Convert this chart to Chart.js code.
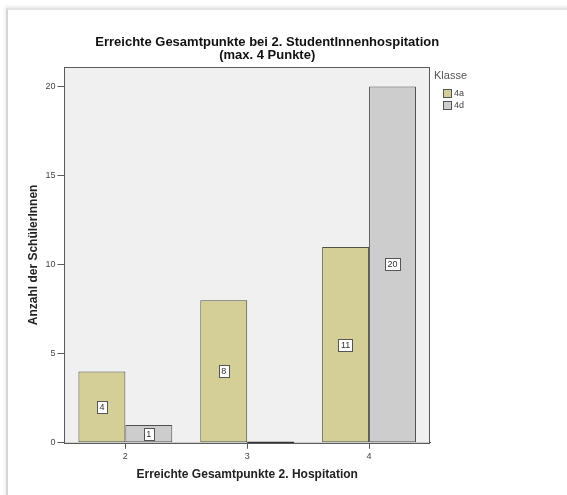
<!DOCTYPE html>
<html>
<head>
<meta charset="utf-8">
<script src="https://cdn.jsdelivr.net/npm/chart.js@4"></script>
<style>
  html, body { margin: 0; padding: 0; background: #ffffff; }
  body { width: 567px; height: 495px; overflow: hidden; position: relative; }
  #frame {
    position: absolute; left: 6px; top: 8px; width: 600px; height: 520px;
    border-left: 2px solid #d6d6d6; border-top: 2px solid #e4e4e4;
    box-shadow: -1px -2px 3px rgba(0,0,0,0.08);
  }
  #wrap { position: absolute; left: 0; top: 0; width: 567px; height: 495px; }
</style>
</head>
<body>
<div id="frame"></div>
<div id="wrap"><canvas id="chart" width="567" height="495"></canvas></div>
<script>
// Erreichte Gesamtpunkte (2. Hospitation) und Anzahl der SchülerInnen je Klasse
const categories = ['2', '3', '4'];
const klasse4a = [4, 8, 11];
const klasse4d = [1, 0, 20];
const seriesNames = ['4a', '4d'];
const yTicks = [0, 5, 10, 15, 20];

const titleLines = ['Erreichte Gesamtpunkte bei 2. StudentInnenhospitation', '(max. 4 Punkte)'];
const legendTitle = 'Klasse';
const xTitle = 'Erreichte Gesamtpunkte 2. Hospitation';
const yTitle = 'Anzahl der SchülerInnen';

const FONT = '"Liberation Sans", Arial, sans-serif';

// Plot background, frame, title, legend and value boxes
const decorations = {
  id: 'decorations',
  beforeDatasetsDraw(chart) {
    const { ctx, chartArea: a } = chart;
    ctx.save();
    ctx.fillStyle = '#f0f0f0';
    ctx.fillRect(a.left, a.top, a.right - a.left, a.bottom - a.top);
    ctx.restore();
  },
  afterDatasetsDraw(chart) {
    const { ctx, chartArea: a } = chart;
    ctx.save();
    // zero-height bars are shown as a dark line on the baseline
    chart.data.datasets.forEach((ds, di) => {
      const meta = chart.getDatasetMeta(di);
      meta.data.forEach((bar, i) => {
        if (ds.data[i] === 0) {
          ctx.strokeStyle = '#333333';
          ctx.lineWidth = 2;
          ctx.beginPath();
          ctx.moveTo(bar.x - bar.width / 2, bar.base);
          ctx.lineTo(bar.x + bar.width / 2, bar.base);
          ctx.stroke();
        }
      });
    });
    // plot frame
    ctx.strokeStyle = '#5a5a5a';
    ctx.lineWidth = 1;
    ctx.strokeRect(Math.round(a.left) + 0.5, Math.round(a.top) + 0.5,
                   Math.round(a.right - a.left) - 1, Math.round(a.bottom - a.top));
    // value boxes in the middle of each bar
    ctx.font = '9px ' + FONT;
    ctx.textAlign = 'center';
    ctx.textBaseline = 'middle';
    chart.data.datasets.forEach((ds, di) => {
      const meta = chart.getDatasetMeta(di);
      meta.data.forEach((bar, i) => {
        const v = ds.data[i];
        if (!v) return;
        const txt = String(v);
        const cy = (bar.y + bar.base) / 2;
        const w = ctx.measureText(txt).width + 5;
        const h = 12;
        ctx.fillStyle = '#ffffff';
        ctx.fillRect(Math.round(bar.x - w / 2) + 0.5, Math.round(cy - h / 2) + 0.5, Math.round(w), h);
        ctx.strokeStyle = '#555555';
        ctx.lineWidth = 1;
        ctx.strokeRect(Math.round(bar.x - w / 2) + 0.5, Math.round(cy - h / 2) + 0.5, Math.round(w), h);
        ctx.fillStyle = '#333333';
        ctx.fillText(txt, bar.x, cy + 0.5);
      });
    });
    // chart title
    ctx.fillStyle = '#111111';
    ctx.font = 'bold 13px ' + FONT;
    ctx.textAlign = 'center';
    ctx.textBaseline = 'middle';
    const tx = a.left + (a.right - a.left) / 2 + 20;
    ctx.fillText(titleLines[0], tx, a.top - 25);
    ctx.fillText(titleLines[1], tx, a.top - 12);
    // legend
    const lx = a.right + 4;
    ctx.textAlign = 'left';
    ctx.font = '11px ' + FONT;
    ctx.fillStyle = '#555555';
    ctx.fillText(legendTitle, lx, a.top + 9);
    ctx.font = '9px ' + FONT;
    chart.data.datasets.forEach((ds, di) => {
      const y = a.top + 27 + di * 12;
      ctx.fillStyle = ds.backgroundColor;
      ctx.fillRect(lx + 9.5, y - 4.5, 8, 8);
      ctx.strokeStyle = '#555555';
      ctx.strokeRect(lx + 9.5, y - 4.5, 8, 8);
      ctx.fillStyle = '#444444';
      ctx.fillText(ds.label, lx + 20, y);
    });
    ctx.restore();
  }
};

new Chart(document.getElementById('chart'), {
  type: 'bar',
  data: {
    labels: categories,
    datasets: [
      { label: seriesNames[0], data: klasse4a, backgroundColor: '#d4cf96', borderColor: '#4f4f42', borderWidth: 1 },
      { label: seriesNames[1], data: klasse4d, backgroundColor: '#cdcdcd', borderColor: '#4f4f4f', borderWidth: 1 }
    ]
  },
  options: {
    responsive: false,
    animation: false,
    events: [],
    layout: { padding: { top: 67, right: 137, left: 26, bottom: 13 } },
    datasets: { bar: { categoryPercentage: 0.77, barPercentage: 1.0, borderSkipped: false } },
    plugins: { legend: { display: false }, title: { display: false }, tooltip: { enabled: false } },
    scales: {
      x: {
        offset: true,
        grid: { offset: false, drawOnChartArea: false, drawTicks: true, tickLength: 6, color: '#5a5a5a' },
        border: { display: true, color: '#5a5a5a' },
        ticks: { color: '#444444', font: { family: FONT, size: 9 }, padding: 2 },
        title: { display: true, text: xTitle, color: '#222222', font: { family: FONT, size: 12, weight: 'bold' }, padding: { top: 4, bottom: 0 } }
      },
      y: {
        min: 0,
        max: 21.1,
        afterBuildTicks(scale) { scale.ticks = yTicks.map(v => ({ value: v })); },
        grid: { drawOnChartArea: false, drawTicks: true, tickLength: 7, color: '#5a5a5a' },
        border: { display: true, color: '#5a5a5a' },
        ticks: { color: '#444444', font: { family: FONT, size: 9 }, padding: 2 },
        title: { display: true, text: yTitle, color: '#222222', font: { family: FONT, size: 12, weight: 'bold' }, padding: { top: 0, bottom: 3 } }
      }
    }
  },
  plugins: [decorations]
});
</script>
</body>
</html>
